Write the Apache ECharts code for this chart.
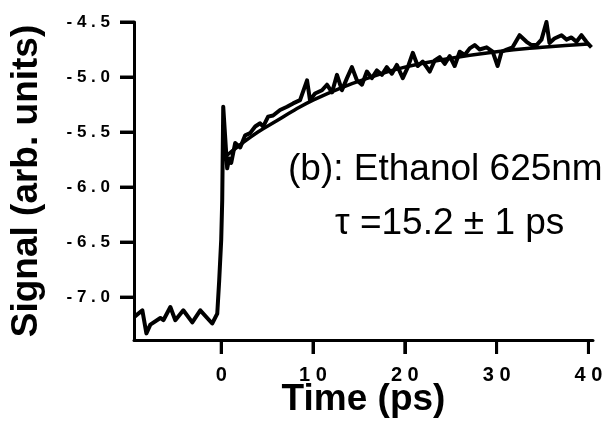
<!DOCTYPE html>
<html>
<head>
<meta charset="utf-8">
<script src="https://cdn.jsdelivr.net/npm/echarts@6/dist/echarts.min.js"></script>
<style>
html,body{margin:0;padding:0;background:#fff;}
#chart{width:615px;height:422px;}
</style>
</head>
<body>
<div id="chart"></div>
<script>
// Measured signal (noisy trace)
const timeData = [-9.46,-8.59,-8.15,-7.72,-6.63,-6.30,-5.54,-5.00,-4.13,-3.15,-2.28,-0.98,-0.43,-0.22,0.00,0.11,0.22,0.65,0.87,1.09,1.52,2.07,2.61,3.15,3.70,4.24,4.57,5.11,5.65,6.41,7.17,7.83,8.59,9.35,9.67,10.22,10.98,11.52,12.07,12.61,13.15,13.70,14.24,14.78,15.33,15.87,16.41,16.96,17.50,18.04,18.59,19.13,19.78,20.33,20.87,21.41,21.96,22.72,23.26,23.80,24.35,24.89,25.43,25.98,26.52,27.07,27.61,28.15,28.91,29.57,30.11,30.54,31.09,31.74,32.50,33.26,33.80,34.35,34.89,35.43,35.76,36.30,37.07,37.61,38.15,38.70,39.24,39.78,40.33];
const signalData = [-7.18,-7.12,-7.33,-7.25,-7.19,-7.21,-7.09,-7.21,-7.12,-7.23,-7.12,-7.24,-7.15,-6.85,-6.48,-6.12,-5.27,-5.83,-5.74,-5.78,-5.60,-5.64,-5.53,-5.51,-5.45,-5.42,-5.45,-5.36,-5.35,-5.30,-5.27,-5.24,-5.21,-5.03,-5.21,-5.15,-5.12,-5.07,-5.14,-4.98,-5.12,-5.01,-4.91,-5.03,-5.07,-4.95,-5.01,-4.94,-4.98,-4.91,-4.97,-4.89,-5.01,-4.91,-4.78,-4.90,-4.86,-4.95,-4.85,-4.82,-4.88,-4.81,-4.90,-4.77,-4.80,-4.74,-4.71,-4.75,-4.73,-4.77,-4.90,-4.77,-4.75,-4.73,-4.62,-4.68,-4.71,-4.71,-4.66,-4.50,-4.69,-4.65,-4.62,-4.66,-4.64,-4.68,-4.62,-4.68,-4.73];
// Fitted curve
const fitTime = [0.5,2,4,6,8,10,13,16,20,25,30,35,40];
const fitValues = [-5.72,-5.62,-5.50,-5.40,-5.30,-5.21,-5.10,-5.01,-4.91,-4.83,-4.77,-4.73,-4.70];
// Axis ticks
const xTicks = [0,10,20,30,40];
const yTicks = [-7.0,-6.5,-6.0,-5.5,-5.0,-4.5];
const xMin = -9.5, xMax = 40.5, yMin = -7.39, yMax = -4.5;
const xTitle = 'Time (ps)';
const yTitle = 'Signal (arb. units)';
const note1 = '(b): Ethanol 625nm';
const note2 = 'τ =15.2 ± 1 ps';

const signalPts = timeData.map((t,i)=>[t, signalData[i]]);
const fitPts = fitTime.map((t,i)=>[t, fitValues[i]]);
const spaced = s => s.split('').join(' ');
const TICK = 14;

const chart = echarts.init(document.getElementById('chart'), null, {renderer:'canvas'});
chart.setOption({
  animation:false,
  backgroundColor:'#fff',
  grid:{left:134,right:22,top:22,bottom:82,containLabel:false,
        outerBounds:{left:-300,right:-300,top:-300,bottom:-300}},
  xAxis:{
    type:'value', min:xMin, max:xMax,
    name:xTitle, nameLocation:'middle', nameGap:41, nameMoveOverlap:false,
    nameTextStyle:{fontFamily:'Liberation Sans',fontWeight:'bold',fontSize:37,color:'#000'},
    axisLine:{show:true,onZero:false,lineStyle:{color:'#000',width:3}},
    axisTick:{show:true,inside:false,length:TICK,customValues:xTicks,lineStyle:{color:'#000',width:3}},
    axisLabel:{show:true,margin:25,customValues:xTicks,formatter:v=>spaced(String(v)),
      fontFamily:'Liberation Sans',fontWeight:'bold',fontSize:20,color:'#000'},
    splitLine:{show:false}
  },
  yAxis:{
    type:'value', min:yMin, max:yMax,
    name:yTitle, nameLocation:'middle', nameRotate:90, nameGap:89, nameMoveOverlap:false,
    nameTextStyle:{fontFamily:'Liberation Sans',fontWeight:'bold',fontSize:37,color:'#000'},
    axisLine:{show:true,onZero:false,lineStyle:{color:'#000',width:3}},
    axisTick:{show:true,inside:false,length:TICK,customValues:yTicks,lineStyle:{color:'#000',width:3}},
    axisLabel:{show:true,margin:24,customValues:yTicks,formatter:v=>spaced(v.toFixed(1)),
      fontFamily:'Liberation Sans',fontWeight:'bold',fontSize:17,color:'#000'},
    splitLine:{show:false}
  },
  series:[
    {type:'line',data:signalPts,showSymbol:false,smooth:false,
      lineStyle:{color:'#000',width:4,join:'round'},z:3},
    {type:'line',data:fitPts,showSymbol:false,smooth:true,
      lineStyle:{color:'#000',width:3.5},z:2}
  ],
  graphic:[
    {id:'n1',type:'text',left:288,top:151,style:{text:note1,font:'37px "Liberation Sans"',fill:'#000'}},
    {id:'n2',type:'text',left:335,top:205,style:{text:note2,font:'37px "Liberation Sans"',fill:'#000'}}
  ]
});

// Tick marks positioned through the chart's own axis scales
function addTicks(){
  const xAxisY = chart.convertToPixel({yAxisIndex:0}, yMin);
  const yAxisX = chart.convertToPixel({xAxisIndex:0}, xMin);
  const els = [];
  xTicks.forEach((v,i)=>{
    const px = chart.convertToPixel({xAxisIndex:0}, v);
    els.push({id:'xt'+i,type:'rect',z:100,
      shape:{x:px-1.5,y:xAxisY,width:3,height:TICK},style:{fill:'#000'}});
  });
  yTicks.forEach((v,i)=>{
    const py = chart.convertToPixel({yAxisIndex:0}, v);
    els.push({id:'yt'+i,type:'rect',z:100,
      shape:{x:yAxisX-TICK,y:py-1.5,width:TICK,height:3},style:{fill:'#000'}});
  });
  chart.setOption({graphic:els});
}
addTicks();
let done = false;
chart.on('finished', ()=>{ if(!done){ done = true; addTicks(); } });
</script>
</body>
</html>
